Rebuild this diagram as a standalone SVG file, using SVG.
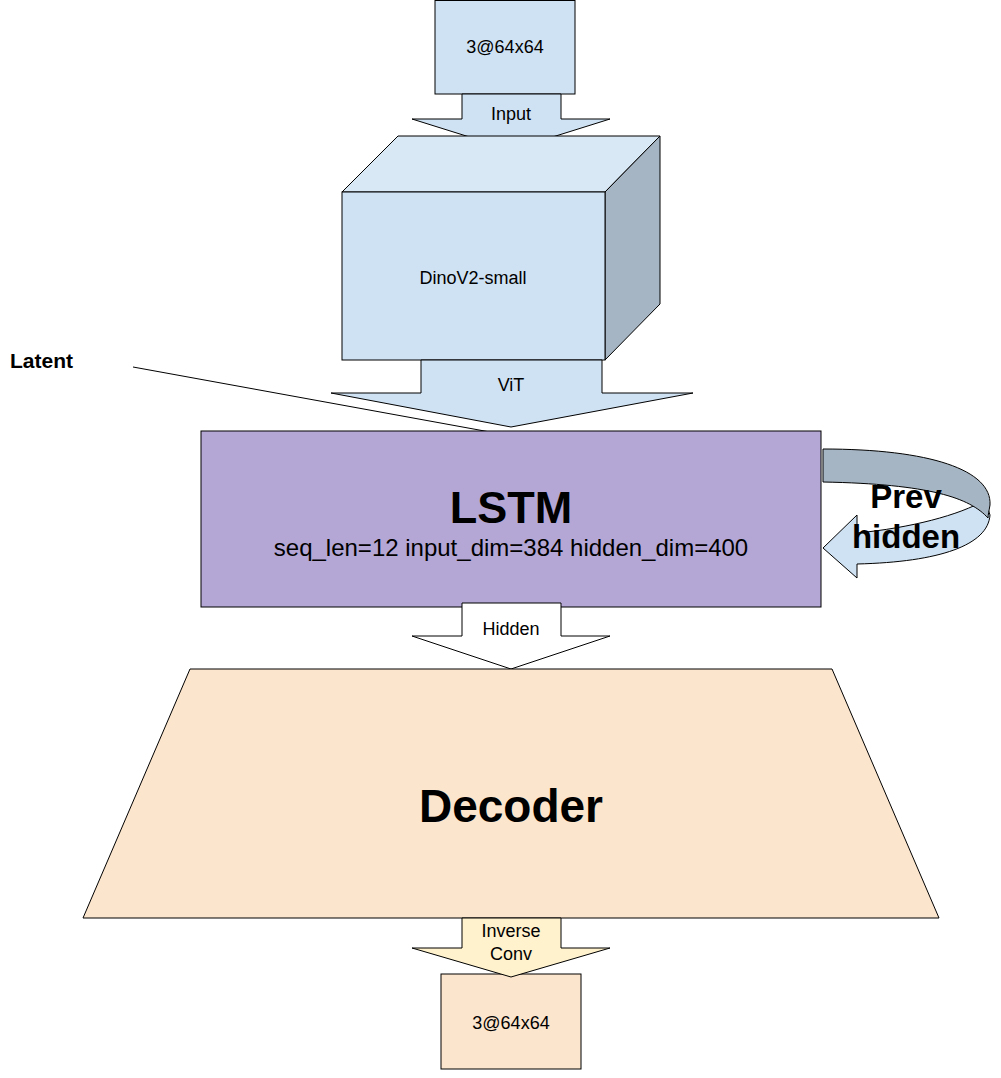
<svg xmlns="http://www.w3.org/2000/svg" width="1001" height="1078" viewBox="0 0 1001 1078">
  <style>
    .s { stroke: #000000; stroke-width: 1; stroke-linejoin: miter; }
    .t { font-family: "Liberation Sans", Arial, sans-serif; font-size: 18px; fill: #000000; text-anchor: middle; }
    .b { font-family: "Liberation Sans", Arial, sans-serif; font-weight: bold; fill: #000000; text-anchor: middle; }
    .blue { fill: #cfe2f3; }
    .bluetop { fill: #d9e8f5; }
    .blueside { fill: #a6b5c3; }
    .purple { fill: #b4a7d6; }
    .peach { fill: #fce5cd; }
    .cream { fill: #fff2cc; }
    .white { fill: #ffffff; }
  </style>
  <rect x="0" y="0" width="1001" height="1078" fill="#ffffff"/>

  <g id="input-image">
    <rect class="s blue" x="435" y="0.5" width="140" height="93.5"/>
    <text class="t" x="505" y="53">3@64x64</text>
  </g>

  <g id="connectors">
    <g id="arrow-input">
      <polygon class="s blue" points="462,94 561,94 561,119 610,119 511,150 412,119 462,119"/>
      <text class="t" x="511" y="120">Input</text>
    </g>
  </g>

  <g id="dinov2">
    <polygon class="s bluetop" points="342,192 398,136 660,136 605,192"/>
    <polygon class="s blueside" points="605,192 660,136 660,304 605,360"/>
    <rect class="s blue" x="342" y="192" width="263" height="168"/>
    <text class="t" x="473" y="284">DinoV2-small</text>
  </g>

  <g id="connectors-2">
    <g id="arrow-vit">
      <polygon class="s blue" points="421,360 602,360 602,393 693,393 511,427 331,393 421,393"/>
      <text class="t" x="511" y="391">ViT</text>
    </g>
    <g id="latent-annotation">
      <line class="s" x1="133" y1="367" x2="490" y2="432" fill="none"/>
      <text class="b" x="10" y="368" font-size="21" style="text-anchor:start">Latent</text>
    </g>
  </g>

  <g id="lstm">
    <rect class="s purple" x="201" y="431" width="620" height="176"/>
    <text class="b" x="511" y="523" font-size="45">LSTM</text>
    <text class="t" x="511" y="556" style="font-size:24px">seq_len=12 input_dim=384 hidden_dim=400</text>
  </g>

  <g id="connectors-3">
    <g id="arrow-prev-hidden">
      <path class="s blue" d="M857,533 C910,528 960,515 985,500 L990,515 C988,545 940,562 857,564 L857,578 L823,548 L857,515 Z"/>
      <path class="s blueside" d="M823,449 C930,449 992,470 990,505 C989,511 988,515 988,518 C970,498 930,484 823,482 Z"/>
      <text class="b" x="906" y="508" font-size="33">Prev</text>
      <text class="b" x="906" y="548" font-size="33">hidden</text>
    </g>
    <g id="arrow-hidden">
      <polygon class="s white" points="462,603 561,603 561,636 610,636 511,669 412,636 462,636"/>
      <text class="t" x="511" y="635">Hidden</text>
    </g>
  </g>

  <g id="decoder">
    <polygon class="s peach" points="190,669 832,669 939,918 83,918"/>
    <text class="b" x="511" y="822" font-size="46">Decoder</text>
  </g>

  <g id="output-image">
    <rect class="s peach" x="441" y="974" width="140" height="95"/>
    <text class="t" x="511" y="1029">3@64x64</text>
  </g>

  <g id="connectors-4">
    <g id="arrow-inverse-conv">
      <polygon class="s cream" points="462,918 561,918 561,948 610,948 511,977 412,948 462,948"/>
      <text class="t" x="511" y="937">Inverse</text>
      <text class="t" x="511" y="960">Conv</text>
    </g>
  </g>
</svg>
